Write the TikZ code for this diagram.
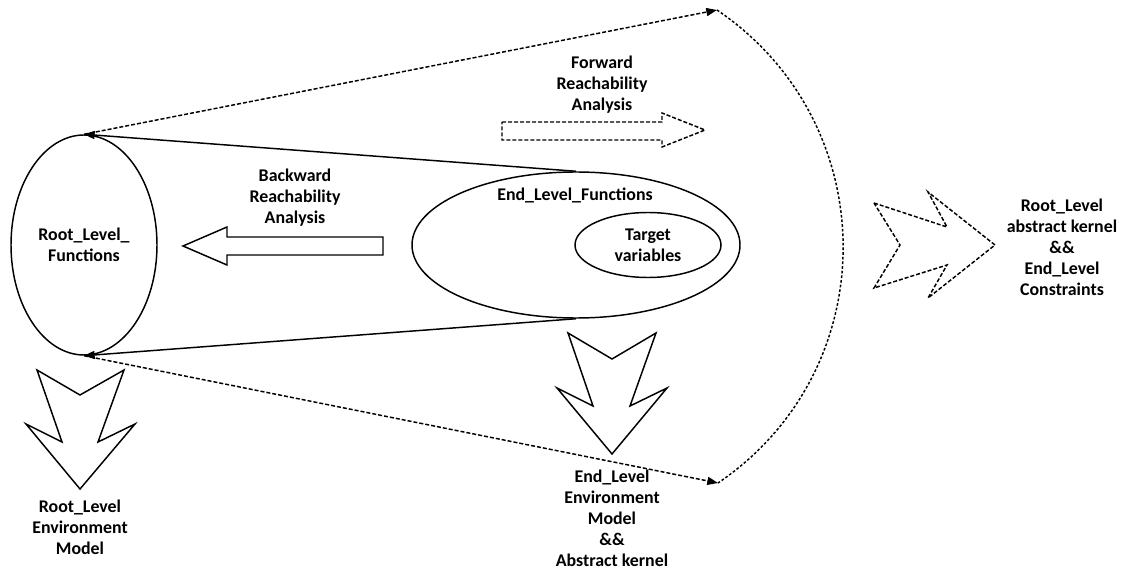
\documentclass[tikz,border=0pt]{standalone}
\usepackage{fontspec}
\setmainfont{Carlito}
\usetikzlibrary{shapes.geometric,arrows.meta}
\begin{document}
\begin{tikzpicture}[x=0.75pt,y=-0.75pt,
 lbl/.style={font=\bfseries\fontsize{13.4}{15.75}\selectfont, align=center, inner sep=0pt},
 ell/.style={draw, ellipse, line width=1.1pt, inner sep=0pt},
 solidline/.style={line width=1.1pt},
 dashline/.style={line width=1.1pt, dash pattern=on 3pt off 1.5pt},
 arcline/.style={line width=1.1pt, dash pattern=on 2pt off 1.5pt},
 arrowtip/.style={-{Triangle[length=8pt,width=6pt]}},
 bigarrow/.style={draw, line width=1.1pt, line join=miter}
]
\useasboundingbox (0,0) rectangle (1123,573);

% ellipses
\node[ell, lbl, minimum width=109.5pt, minimum height=165pt] (root) at (84,245) {Root\_Level\_\\Functions};
\node[ell, minimum width=246pt, minimum height=109.5pt] (endf) at (576,245) {};
\node[lbl] (eflbl) at (575,195) {End\_Level\_Functions};
\node[ell, lbl, minimum width=109.5pt, minimum height=48.75pt] (target) at (648,245) {Target\\variables};

% solid connectors
\draw[solidline, arrowtip] (endf.north) -- (root.north);
\draw[solidline, arrowtip] (endf.south) -- (root.south);

% dashed connectors and arc
\coordinate (ftop) at (717,10);
\coordinate (fbot) at (718,483);
\draw[dashline, arrowtip] (root.north) -- (ftop);
\draw[dashline, arrowtip] (root.south) -- (fbot);
\draw[arcline] (ftop) .. controls (884,123) and (886,369) .. (fbot);

% backward arrow
\draw[bigarrow] (383,237) -- (227,237) -- (227,227) -- (183,246) -- (227,265) -- (227,255) -- (383,255) -- cycle;
\node[lbl] (bwd) at (295,198) {Backward\\Reachability\\Analysis};

% forward arrow
\draw[bigarrow, dashline] (502,122) -- (662,122) -- (662,113) -- (705,130) -- (662,147) -- (662,140) -- (502,140) -- cycle;
\node[lbl] (fwd) at (602,85) {Forward\\Reachability\\Analysis};

% right chevron arrow
\draw[bigarrow, dashline] (874,203) -- (947,227) -- (928,192) -- (995,245) -- (928,298) -- (947,265) -- (874,288) -- (900,245) -- cycle;
\node[lbl] (rc) at (1062,247) {Root\_Level\\abstract kernel\\\&\&\\End\_Level\\Constraints};

% down arrow under End ellipse
\draw[bigarrow] (568,333) -- (612,359) -- (656,333) -- (630,406) -- (667,388) -- (612,454) -- (557,388) -- (593,406) -- cycle;
\node[lbl] (eenv) at (612,518) {End\_Level\\Environment\\Model\\\&\&\\Abstract kernel};

% down arrow under Root ellipse
\draw[bigarrow] (37,370) -- (80,395) -- (124,370) -- (98,442) -- (135,424) -- (80,489) -- (26,424) -- (62,442) -- cycle;
\node[lbl] (renv) at (80,527) {Root\_Level\\Environment\\Model};
\end{tikzpicture}
\end{document}
